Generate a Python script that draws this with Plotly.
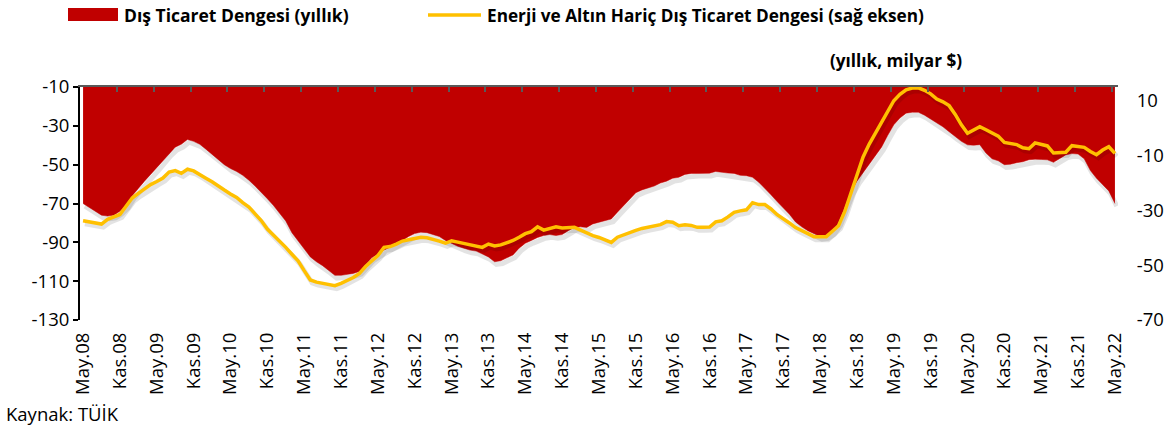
import plotly.graph_objects as go

# ---- data (monthly, May 2008 - May 2022), billion USD, 12-month cumulative ----
months = list(range(169))

tick_labels = ["May.08", "Kas.08", "May.09", "Kas.09", "May.10", "Kas.10", "May.11", "Kas.11",
               "May.12", "Kas.12", "May.13", "Kas.13", "May.14", "Kas.14", "May.15", "Kas.15",
               "May.16", "Kas.16", "May.17", "Kas.17", "May.18", "Kas.18", "May.19", "Kas.19",
               "May.20", "Kas.20", "May.21", "Kas.21", "May.22"]

dis_ticaret = [
    -70, -72, -74, -76, -76.5, -76, -74, -71, -66, -62,
    -58.5, -55, -51.5, -47.5, -44, -41, -39.5, -37, -38, -39.5,
    -42, -44.5, -47.5, -50, -52, -53.5, -55.5, -58, -61, -64,
    -67.5, -71, -75, -79, -85, -89, -93.5, -97.5, -100, -102,
    -104.5, -107, -107, -106.5, -106, -105, -101.5, -98, -96, -94,
    -92.5, -90.5, -89, -87, -85.5, -84.8, -85, -86, -87, -89,
    -90.5, -92, -93, -94, -94.5, -96, -97.5, -100, -99.5, -98,
    -96.5, -93, -90.5, -89, -87.5, -86.5, -86, -86.5, -86, -84,
    -82.3, -82, -82.3, -80.5, -79.7, -78.5, -78, -74.5, -71, -67.5,
    -64.5, -63, -62, -61, -59.5, -58.5, -57, -56.5, -55, -54.5,
    -54.5, -54.5, -54.4, -53.5, -54, -54.3, -54.5, -55.5, -55.7, -56.5,
    -59, -62, -65.5, -69, -72, -75.5, -79.5, -82, -84, -85.5,
    -87, -86.5, -84.5, -80, -72, -64, -58.5, -54, -49.5, -45.5,
    -41, -35, -29.5, -26, -23.5, -23, -23, -24.5, -26.5, -28.5,
    -30.5, -33, -35.5, -38, -39.8, -40, -39.7, -44, -47, -48,
    -50, -49.8, -49, -48.5, -47.5, -47.2, -47.3, -47.5, -48.8, -47,
    -45, -44.3, -44.5, -47, -53, -57, -60, -63.5, -70,
]

enerji_altin_haric = [
    -33.8, -34.3, -34.8, -35, -33.3, -32.5, -31.5, -28.5, -25.5, -23.8,
    -22.3, -20.6, -19.5, -18.2, -16, -15.5, -16.5, -15, -15.6, -16.8,
    -18.3, -19.6, -21.2, -22.6, -24, -25.3, -27.2, -28.8, -31.3, -33.7,
    -36.8, -39, -41, -43.5, -46, -48.4, -52, -55.4, -56.2, -56.6,
    -57.2, -57.5, -56.6, -55.5, -54.5, -53, -50.5, -48.5, -46.5, -43.5,
    -43.2, -42.3, -41.2, -40.7, -40.2, -39.8, -40, -40.5, -41.2, -42,
    -41.1, -41.6, -42, -42.6, -43, -43.5, -42.3, -43, -42.6, -41.8,
    -41, -39.8, -38.5, -37.8, -36, -37.2, -36.7, -36, -36.4, -36.4,
    -36.2, -37.2, -38.3, -39.2, -39.9, -40.8, -41.7, -39.8, -38.9, -38,
    -37.3, -36.6, -36.1, -35.7, -35.2, -34.1, -34.3, -35.6, -35.3, -35.5,
    -36.2, -36.2, -36.1, -34.2, -33.8, -32.4, -30.7, -30.2, -29.8, -27.2,
    -27.9, -27.9, -29.5, -31.6, -33, -34.6, -36.3, -37.4, -38.5, -39.6,
    -39.6, -39.6, -37.6, -35.6, -30.5, -23.5, -16.5, -10.5, -5.8, -1.8,
    2.1, 6, 10, 12.3, 14, 14.6, 14.7, 13.8, 12.5, 10.6,
    9.6, 8.2, 5, 1.2, -1.9, -0.7, 0.5, -0.6, -1.8, -2.9,
    -5.2, -5.5, -6, -7.2, -7.5, -5.4, -6, -6.5, -9.1, -9,
    -8.8, -6.4, -6.6, -7, -8.5, -9.7, -8, -6.8, -9.2,
]

left_ticks = [-10, -30, -50, -70, -90, -110, -130]
left_tick_labels = ["-10", "-30", "-50", "-70", "-90", "-110", "-130"]
right_ticks = [10, -10, -30, -50, -70]
right_tick_labels = ["10", "-10", "-30", "-50", "-70"]

FONT = "Open Sans"
RED = "#C00000"
YELLOW = "#FFC000"
SHADOW = "rgba(0,0,0,0.11)"

fig = go.Figure()

# soft drop shadows (Excel-style) under the area edge and the line
fig.add_trace(go.Scatter(
    x=[m + 0.3 for m in months], y=[v - 1.4 for v in dis_ticaret], mode="lines",
    line=dict(color=SHADOW, width=5), showlegend=False, hoverinfo="skip",
    xaxis="x", yaxis="y",
))
fig.add_trace(go.Scatter(
    x=months, y=dis_ticaret, mode="lines", fill="tozeroy",
    fillcolor=RED, line=dict(color=RED, width=0.5),
    name="Dış Ticaret Dengesi (yıllık)", showlegend=False,
    xaxis="x", yaxis="y",
))
fig.add_trace(go.Scatter(
    x=[m + 0.3 for m in months], y=[v - 1.1 for v in enerji_altin_haric], mode="lines",
    line=dict(color=SHADOW, width=5), showlegend=False, hoverinfo="skip",
    xaxis="x", yaxis="y2",
))
fig.add_trace(go.Scatter(
    x=months, y=enerji_altin_haric, mode="lines",
    line=dict(color=YELLOW, width=3.5),
    name="Enerji ve Altın Hariç Dış Ticaret Dengesi (sağ eksen)", showlegend=False,
    xaxis="x", yaxis="y2",
))
# invisible trace to activate top axis
fig.add_trace(go.Scatter(x=[months[0]], y=[left_ticks[0]], mode="markers",
                         marker=dict(opacity=0), showlegend=False, hoverinfo="skip",
                         xaxis="x2", yaxis="y"))

tick_idx = months[::6]
top_ticks = [m - 0.5 for m in months[::6]] + [months[-1] + 0.5]

fig.update_layout(
    width=1175, height=432,
    margin=dict(l=80, r=57, t=87, b=112),
    paper_bgcolor="white", plot_bgcolor="white",
    font=dict(family=FONT, size=16, color="#000000"),
    hovermode=False,
    xaxis=dict(
        range=[-0.5, 168.5], tickmode="array", tickvals=tick_idx, ticktext=tick_labels,
        tickangle=-90, showgrid=False, zeroline=False, showline=False, ticks="",
        tickfont=dict(family=FONT, size=18.5), ticklabelstandoff=8,
    ),
    xaxis2=dict(
        range=[-0.5, 168.5], overlaying="x", side="top", tickmode="array",
        tickvals=top_ticks, showticklabels=False, ticks="inside", ticklen=5,
        tickcolor="#595959", tickwidth=2, showline=True, linecolor="#595959", linewidth=2,
        showgrid=False, zeroline=False, matches="x",
    ),
    yaxis=dict(
        range=[-130, -10], tickmode="array", tickvals=left_ticks, ticktext=left_tick_labels,
        showgrid=False, zeroline=False, showline=True, linecolor="black", linewidth=2,
        ticks="outside", ticklen=5, tickwidth=2, tickcolor="black",
        tickfont=dict(family=FONT, size=18.5),
    ),
    yaxis2=dict(
        range=[-70, 15], tickmode="array", tickvals=right_ticks, ticktext=right_tick_labels,
        overlaying="y", side="right",
        showgrid=False, zeroline=False, showline=False,
        ticks="outside", ticklen=14, tickcolor="rgba(0,0,0,0)",
        tickfont=dict(family=FONT, size=18.5),
    ),
)

# legend (drawn manually to match position)
fig.add_shape(type="rect", xref="paper", yref="paper",
              x0=(68 - 80) / 1038, x1=(118 - 80) / 1038,
              y0=1 + (87 - 21) / 233, y1=1 + (87 - 8) / 233,
              fillcolor=RED, line=dict(width=0))
fig.add_annotation(xref="paper", yref="paper", x=(122 - 80) / 1038, y=1 + (87 - 15) / 233,
                   text="<b>Dış Ticaret Dengesi (yıllık)</b>", showarrow=False,
                   xanchor="left", yanchor="middle", font=dict(family=FONT, size=17.5))
fig.add_shape(type="line", xref="paper", yref="paper",
              x0=(428 - 80) / 1038, x1=(481 - 80) / 1038,
              y0=1 + (87 - 15) / 233, y1=1 + (87 - 15) / 233,
              line=dict(color=YELLOW, width=3.5))
fig.add_annotation(xref="paper", yref="paper", x=(485 - 80) / 1038, y=1 + (87 - 15) / 233,
                   text="<b>Enerji ve Altın Hariç Dış Ticaret Dengesi (sağ eksen)</b>",
                   showarrow=False, xanchor="left", yanchor="middle",
                   font=dict(family=FONT, size=17.2))
fig.add_annotation(xref="paper", yref="paper", x=(964 - 80) / 1038, y=1 + (87 - 61) / 233,
                   text="<b>(yıllık, milyar $)</b>", showarrow=False,
                   xanchor="right", yanchor="middle", font=dict(family=FONT, size=17.2))
fig.add_annotation(xref="paper", yref="paper", x=(4 - 80) / 1038, y=-(413 - 320) / 233,
                   text="Kaynak: TÜİK", showarrow=False,
                   xanchor="left", yanchor="middle", font=dict(family=FONT, size=18.5))

fig.write_html("out.html", config={"displayModeBar": False, "staticPlot": True},
               post_script="document.body.style.margin='0';")
